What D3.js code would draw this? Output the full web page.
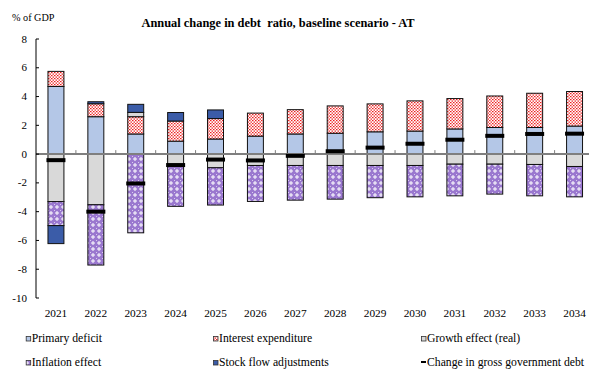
<!DOCTYPE html>
<html>
<head>
<meta charset="utf-8">
<script src="https://cdn.jsdelivr.net/npm/d3@7/dist/d3.min.js"></script>
<style>
html,body{margin:0;padding:0;background:#fff;}
svg{display:block;}
svg text{font-family:"Liberation Serif","Times New Roman",Tinos,"DejaVu Serif",serif;fill:#000;}
</style>
</head>
<body>
<div id="chart"></div>
<script>
// ---- data ----
const years = ["2021","2022","2023","2024","2025","2026","2027","2028","2029","2030","2031","2032","2033","2034"];
const primaryDeficit = [4.7, 2.6, 1.4, 0.9, 1.05, 1.25, 1.4, 1.45, 1.55, 1.6, 1.75, 1.85, 1.85, 1.95];
const interestExpenditure = [1.05, 0.9, 1.2, 1.4, 1.42, 1.6, 1.69, 1.9, 1.94, 2.1, 2.11, 2.19, 2.38, 2.4];
const growthEffect = [-3.3, -3.52, 0.3, -0.74, -0.95, -0.79, -0.79, -0.79, -0.79, -0.79, -0.7, -0.7, -0.72, -0.86];
const inflationEffect = [-1.67, -4.19, -5.47, -2.89, -2.59, -2.5, -2.41, -2.34, -2.24, -2.18, -2.2, -2.08, -2.18, -2.11];
const stockFlow = [-1.25, 0.14, 0.56, 0.59, 0.6, 0, 0, 0, 0, 0, 0, 0, 0, 0];
const changeDebt = [-0.42, -4.0, -2.04, -0.76, -0.38, -0.44, -0.12, 0.2, 0.45, 0.72, 1.0, 1.27, 1.4, 1.42];
const yTicks = [-10, -8, -6, -4, -2, 0, 2, 4, 6, 8];
const seriesKeys = ["primary", "interest", "growth", "inflation", "sfa"];
const seriesNames = {primary:"Primary deficit", interest:"Interest expenditure", growth:"Growth effect (real)", inflation:"Inflation effect", sfa:"Stock flow adjustments", debt:"Change in gross government debt"};
const title = "Annual change in debt  ratio, baseline scenario - AT";
const unitLabel = "% of GDP";

const table = years.map((y, i) => ({
  year: y, primary: primaryDeficit[i], interest: interestExpenditure[i],
  growth: growthEffect[i], inflation: inflationEffect[i], sfa: stockFlow[i], debt: changeDebt[i]
}));

// ---- chart ----
const W = 589, H = 372;
const FONT = '"Liberation Serif","Times New Roman",Tinos,"DejaVu Serif",serif';
const svg = d3.select("#chart").append("svg").attr("width", W).attr("height", H)
  .attr("font-family", FONT);

const defs = svg.append("defs");
// red dotted pattern
const pDots = defs.append("pattern").attr("id","dots").attr("patternUnits","userSpaceOnUse")
  .attr("width",3).attr("height",3);
pDots.append("rect").attr("width",3).attr("height",3).attr("fill","#fff");
pDots.append("rect").attr("x",0).attr("y",0).attr("width",1.5).attr("height",1.2).attr("fill","#ee2020");
pDots.append("rect").attr("x",1.5).attr("y",1.5).attr("width",1.5).attr("height",1.2).attr("fill","#ee2020");
// purple pattern with white crosses
const pCross = defs.append("pattern").attr("id","cross").attr("patternUnits","userSpaceOnUse")
  .attr("width",6).attr("height",6);
pCross.append("rect").attr("width",6).attr("height",6).attr("fill","#9a78cf");
pCross.append("rect").attr("x",2.5).attr("y",1).attr("width",1).attr("height",4).attr("fill","#fff");
pCross.append("rect").attr("x",1).attr("y",2.5).attr("width",4).attr("height",1).attr("fill","#fff");
pCross.append("rect").attr("x",0).attr("y",0).attr("width",1).attr("height",1).attr("fill","#d9cdee");

const fills = {primary:"#b4c7e7", interest:"url(#dots)", growth:"#d9d9d9", inflation:"url(#cross)", sfa:"#3b5ca8"};

const x = d3.scaleBand().domain(years).range([36, 594.5]).paddingInner(0.6).paddingOuter(0.3);
const y = d3.scaleLinear().domain([-10, 8]).range([298, 39]);
const step = x.step();

// stacked bars
const stack = d3.stack().keys(seriesKeys).offset(d3.stackOffsetDiverging);
const stacked = stack(table);

const barsG = svg.append("g");
stacked.forEach(layer => {
  barsG.append("g").selectAll("rect")
    .data(layer.filter(d => Math.abs(d[1]-d[0]) > 1e-9))
    .join("rect")
    .attr("x", d => x(d.data.year))
    .attr("width", x.bandwidth())
    .attr("y", d => y(Math.max(d[0], d[1])))
    .attr("height", d => Math.abs(y(d[0]) - y(d[1])))
    .attr("fill", fills[layer.key])
    .attr("stroke", "#111")
    .attr("stroke-width", 1);
});

// zero axis
const x0 = x.range()[0];
svg.append("line").attr("x1", x0).attr("x2", 596).attr("y1", y(0)).attr("y2", y(0))
  .attr("stroke", "#7f7f7f").attr("stroke-width", 2);
years.forEach((yr, i) => {
  if (i === 0) return;
  const bx = x(yr) - (step - x.bandwidth())/2;
  svg.append("line").attr("x1", bx).attr("x2", bx).attr("y1", y(0)-4).attr("y2", y(0))
    .attr("stroke", "#7f7f7f").attr("stroke-width", 1);
});

// change in debt markers
svg.append("g").selectAll("rect").data(table).join("rect")
  .attr("x", d => x(d.year) + x.bandwidth()/2 - 9.5)
  .attr("width", 19)
  .attr("y", d => y(d.debt) - 2)
  .attr("height", 4)
  .attr("fill", "#000");

// y axis
const yAxis = svg.append("g").attr("transform", "translate(36,0)");
yAxis.append("line").attr("x1",0).attr("x2",0).attr("y1",y(8)).attr("y2",y(-10)).attr("stroke","#000").attr("stroke-width",1);
yAxis.selectAll("line.t").data(yTicks).join("line").attr("class","t")
  .attr("x1",0).attr("x2",3).attr("y1",d=>y(d)).attr("y2",d=>y(d)).attr("stroke","#000");
yAxis.selectAll("text").data(yTicks).join("text")
  .attr("x",-9).attr("y",d=>y(d)+3.5).attr("text-anchor","end")
  .style("font-size","11px").text(d=>d);

// x labels
svg.append("g").selectAll("text").data(years).join("text")
  .attr("x", d => x(d) + x.bandwidth()/2).attr("y", 317)
  .attr("text-anchor","middle").style("font-size","11.3px").text(d=>d);

// title and unit
svg.append("text").attr("x", 141.5).attr("y", 26.5).style("font-size","12.4px").style("font-weight","bold")
  .style("white-space","pre").text(title);
svg.append("text").attr("x", 12).attr("y", 21).style("font-size","10.2px").text(unitLabel);

// legend
const legendItems = [
  {key:"primary", x:25.7, y:342},
  {key:"interest", x:213, y:342},
  {key:"growth", x:421, y:342},
  {key:"inflation", x:25.7, y:366},
  {key:"sfa", x:213, y:366},
  {key:"debt", x:421, y:366}
];
const lg = svg.append("g");
legendItems.forEach(it => {
  if (it.key === "debt") {
    lg.append("rect").attr("x", it.x).attr("y", it.y-5).attr("width",5).attr("height",2).attr("fill","#000");
  } else {
    lg.append("rect").attr("x", it.x+0.5).attr("y", it.y-5.5).attr("width",4.5).attr("height",4.5)
      .attr("fill", fills[it.key]).attr("stroke","#333").attr("stroke-width",0.8);
  }
  lg.append("text").attr("x", it.x+6).attr("y", it.y).style("font-size","11.7px").text(seriesNames[it.key]);
});
</script>
</body>
</html>
